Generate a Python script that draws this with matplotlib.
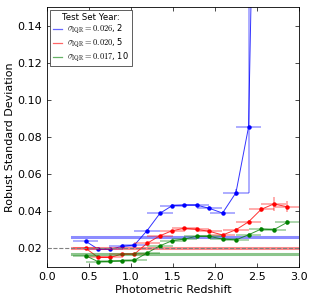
import matplotlib
matplotlib.use("Agg")
import matplotlib.pyplot as plt
import numpy as np

plt.rcParams['mathtext.fontset'] = 'cm'
plt.rcParams['font.family'] = ['DejaVu Sans']

z = [0.46, 0.61, 0.75, 0.89, 1.04, 1.19, 1.345, 1.49, 1.635, 1.78, 1.93, 2.09, 2.25, 2.40, 2.55, 2.70, 2.86]
xerr = 0.15

blue_z = [0.46, 0.61, 0.75, 0.89, 1.04, 1.19, 1.345, 1.49, 1.635, 1.78, 1.93, 2.09, 2.25, 2.40, 2.55]
blue_y = [0.0238, 0.0195, 0.0195, 0.0210, 0.0218, 0.0295, 0.0389, 0.0430, 0.0433, 0.0433, 0.0416, 0.0390, 0.0500, 0.0854, 0.43]
blue_lo = [0.0005, 0.0005, 0.0005, 0.0005, 0.0005, 0.0006, 0.0008, 0.0008, 0.0008, 0.0008, 0.0010, 0.0010, 0.0020, 0.0354, 0.1]
blue_hi = [0.0005, 0.0005, 0.0005, 0.0005, 0.0005, 0.0006, 0.0008, 0.0008, 0.0008, 0.0008, 0.0010, 0.0010, 0.0020, 0.2, 0.1]

red_y = [0.0200, 0.0151, 0.0151, 0.0169, 0.0169, 0.0227, 0.0268, 0.0295, 0.0308, 0.0302, 0.0292, 0.0272, 0.0300, 0.0343, 0.0410, 0.0439, 0.0424]
red_err = [0.0005, 0.0005, 0.0005, 0.0005, 0.0005, 0.0005, 0.0006, 0.0006, 0.0006, 0.0006, 0.0007, 0.0007, 0.0009, 0.0012, 0.0015, 0.0040, 0.0030]

green_y = [0.0160, 0.0128, 0.0130, 0.0133, 0.0136, 0.0175, 0.0214, 0.0241, 0.0250, 0.0265, 0.0265, 0.0250, 0.0246, 0.0273, 0.0304, 0.0300, 0.0340]
green_err = [0.0004, 0.0004, 0.0004, 0.0004, 0.0004, 0.0005, 0.0005, 0.0005, 0.0005, 0.0005, 0.0006, 0.0006, 0.0007, 0.0008, 0.0010, 0.0012, 0.0012]

sigma_iqr = [0.026, 0.020, 0.017]
years = [2, 5, 10]
colors = ['b', 'r', 'g']
labels = [r'$\sigma_{\rm IQR} = 0.026$, 2', r'$\sigma_{\rm IQR} = 0.020$, 5', r'$\sigma_{\rm IQR} = 0.017$, 10']

fig = plt.figure(figsize=(3.14, 3.04), dpi=100)
ax = fig.add_axes([0.15, 0.122, 0.802, 0.855])

ax.axhline(0.02, color='gray', ls='--', lw=0.8, zorder=3)

series = [
    (blue_z, blue_y, [blue_lo, blue_hi]),
    (z, red_y, red_err),
    (z, green_y, green_err),
]
for (xs, ys, ye), c, s, lab in zip(series, colors, sigma_iqr, labels):
    ax.errorbar(xs, ys, xerr=xerr, yerr=ye, fmt='none', ecolor=c, alpha=0.35, elinewidth=1.3, capsize=0)
    ax.plot(xs, ys, '-', color=c, lw=0.7, alpha=0.8)
    ax.plot(xs, ys, 'o', color=c, ms=2.2, mec=c)
    ax.plot([0.3, 3.0], [s, s], color=c, lw=2.2, alpha=0.45, label=lab)

ax.set_xlim(0.0, 3.0)
ax.set_ylim(0.01, 0.15)
ax.set_xticks(np.arange(0, 3.01, 0.5))
ax.set_yticks([0.02, 0.04, 0.06, 0.08, 0.10, 0.12, 0.14])
ax.tick_params(direction='in', top=True, right=True, labelsize=8, length=3, width=0.5)
for sp in ax.spines.values():
    sp.set_linewidth(0.6)
ax.set_xlabel('Photometric Redshift', fontsize=8, labelpad=2)
ax.set_ylabel('Robust Standard Deviation', fontsize=8, labelpad=2)

leg = ax.legend(loc='upper left', title='Test Set Year:', fontsize=6, title_fontsize=6.2,
                fancybox=False, edgecolor='#444444', framealpha=1, handlelength=1.1,
                handletextpad=0.6, borderaxespad=0.4, labelspacing=0.12, borderpad=0.3)
leg.get_frame().set_linewidth(0.6)
for ln in leg.get_lines():
    ln.set_linewidth(0.9)
    ln.set_alpha(0.6)

fig.savefig('out.png', dpi=100)
